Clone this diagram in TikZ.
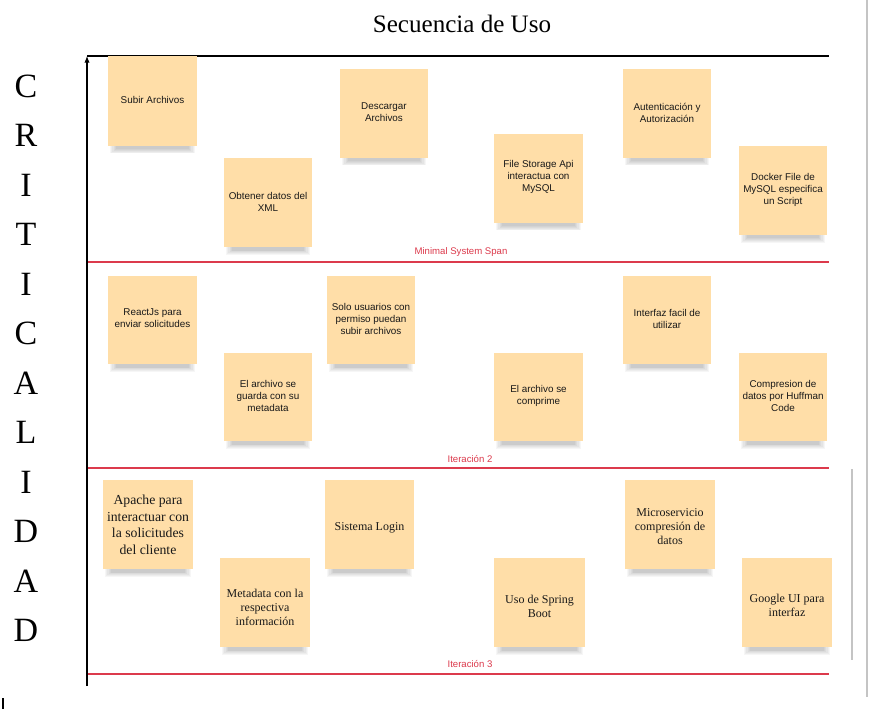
\documentclass[tikz,border=0pt]{standalone}
\usepackage{fontspec}
\usetikzlibrary{arrows.meta}
\setmainfont{Liberation Serif}
\newfontfamily\notesans{Liberation Sans}
\newfontfamily\noteserif{Liberation Serif}
\definecolor{notefill}{HTML}{FFDEA8}
\definecolor{spanred}{HTML}{DC3A4C}
\definecolor{edgegray}{HTML}{C4C4C4}
\newcommand\stickynote[8]{%
  \foreach \k in {0,...,5} {%
    \fill[black,opacity=0.035] (#2+2+1.2*\k,#5-1) rectangle (#4-2-1.2*\k,#5+7.5-0.8*\k);
  }
  \node[notebox,minimum width={(#4-#2)*0.75pt},minimum height={(#5-#3)*0.75pt}] (#1) at ({(#2+#4)/2},{(#3+#5)/2}) {};
  \node[#7] (#1text) at ({(#2+#4)/2},#6) {#8};
}
\begin{document}
\begin{tikzpicture}[x=0.75pt,y=-0.75pt,
  notebox/.style={draw=none,fill=notefill,inner sep=0pt,outer sep=0pt},
  sanstext/.style={font={\notesans\fontsize{7.4}{9}\selectfont},align=center,inner sep=0pt,text=black!90},
  seriftext/.style={font={\noteserif\fontsize{9}{10.5}\selectfont},align=center,inner sep=0pt,text=black!90},
  bigserif/.style={font={\noteserif\fontsize{10.3}{12.4}\selectfont},align=center,inner sep=0pt,text=black!90},
  spanline/.style={spanred,line width=0.9pt},
  spanlabel/.style={text=spanred,font={\notesans\fontsize{7.2}{8}\selectfont},inner sep=0pt},
  axisline/.style={black,line width=0.8pt},
  letter/.style={font={\fontsize{25.5}{26}\selectfont},inner sep=0pt},
  titletext/.style={font={\fontsize{18.8}{20}\selectfont},inner sep=0pt},
  edgeline/.style={edgegray,line width=0.8pt},
]
\useasboundingbox (0,0) rectangle (877,709);
\fill[white] (0,0) rectangle (877,709);

% title
\node[titletext] (title) at (462,24) {Secuencia de Uso};

% side letters
\foreach \ch [count=\i from 0] in {C,R,I,T,I,C,A,L,I,D,A,D} {
  \node[letter] (letter\i) at (26,{86+49.5*\i}) {\ch};
}

% right edge lines
\coordinate (edgeTop) at (867,0);
\coordinate (edgeBot) at (867,697);
\draw[edgeline] (edgeTop) -- (edgeBot);
\coordinate (edge2Top) at (852,469);
\coordinate (edge2Bot) at (852,660);
\draw[edgeline] (edge2Top) -- (edge2Bot);

% small mark bottom left
\coordinate (markTop) at (3,698);
\coordinate (markBot) at (3,709);
\draw[black,line width=0.8pt] (markTop) -- (markBot);

% span lines
\coordinate (s1a) at (87,262);   \coordinate (s1b) at (829,262);
\coordinate (s2a) at (87,468);   \coordinate (s2b) at (829,468);
\coordinate (s3a) at (87,674);   \coordinate (s3b) at (829,674);
\draw[spanline] (s1a) -- (s1b);
\draw[spanline] (s2a) -- (s2b);
\draw[spanline] (s3a) -- (s3b);
\node[spanlabel] (lab1) at (461,252.5) {Minimal System Span};
\node[spanlabel] (lab2) at (470,459) {Iteración 2};
\node[spanlabel] (lab3) at (470,664.5) {Iteración 3};

% axes
\coordinate (origin) at (87,686);
\coordinate (corner) at (87,56);
\coordinate (topEnd) at (829,56);
\draw[axisline] (corner) -- (topEnd);
\draw[axisline,-{Latex[length=5pt,width=4pt]}] (origin) -- (corner);

% row 1
\stickynote{a1}{108}{56}{197}{146}{100}{sanstext}{Subir Archivos}
\stickynote{a2}{224}{158}{312}{247}{201.5}{sanstext}{Obtener datos del\\XML}
\stickynote{a3}{340}{69}{428}{158}{112.5}{sanstext}{Descargar\\Archivos}
\stickynote{a4}{494}{134}{583}{223}{177}{sanstext}{File Storage Api\\interactua con\\MySQL}
\stickynote{a5}{623}{69}{711}{158}{112.5}{sanstext}{Autenticación y\\Autorización}
\stickynote{a6}{739}{146}{827}{235}{190}{sanstext}{Docker File de\\MySQL especifica\\un Script}

% row 2
\stickynote{b1}{108}{276}{197}{364}{318.5}{sanstext}{ReactJs para\\enviar solicitudes}
\stickynote{b2}{224}{353}{312}{441}{396}{sanstext}{El archivo se\\guarda con su\\metadata}
\stickynote{b3}{327}{276}{415}{364}{318.5}{sanstext}{Solo usuarios con\\permiso puedan\\subir archivos}
\stickynote{b4}{494}{353}{583}{441}{396}{sanstext}{El archivo se\\comprime}
\stickynote{b5}{623}{276}{711}{364}{318.5}{sanstext}{Interfaz facil de\\utilizar}
\stickynote{b6}{739}{353}{827}{441}{396}{sanstext}{Compresion de\\datos por Huffman\\Code}

% row 3
\stickynote{c1}{103}{480}{193}{569}{525}{bigserif}{Apache para\\interactuar con\\la solicitudes\\del cliente}
\stickynote{c2}{220}{558}{310}{647}{607}{seriftext}{Metadata con la\\respectiva\\información}
\stickynote{c3}{325}{480}{414}{569}{528}{seriftext}{Sistema Login}
\stickynote{c4}{494}{558}{585}{647}{606}{seriftext}{Uso de Spring\\Boot}
\stickynote{c5}{625}{480}{715}{569}{527}{seriftext}{Microservicio\\compresión de\\datos}
\stickynote{c6}{742}{558}{832}{647}{605.5}{seriftext}{Google UI para\\interfaz}
\end{tikzpicture}
\end{document}
